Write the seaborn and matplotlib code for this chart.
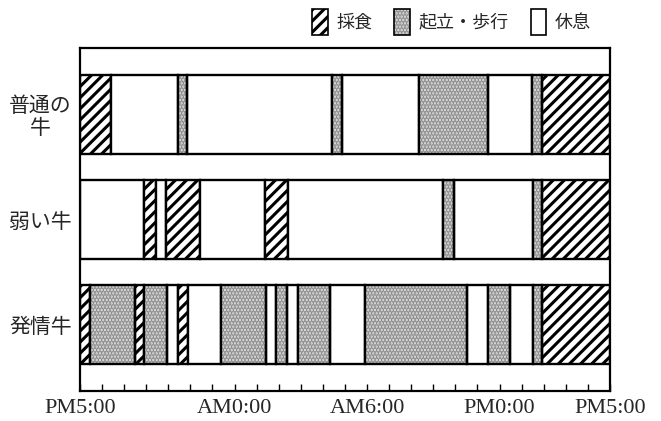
import matplotlib
matplotlib.use("Agg")
import matplotlib.pyplot as plt
import seaborn as sns
import pandas as pd
from matplotlib.patches import Patch

# ---------------- data ----------------
cows = ["普通の\n牛", "弱い牛", "発情牛"]
activities = ["採食", "起立・歩行", "休息"]

# segment boundaries, hours after PM5:00
normal_edges = [0, 1.40, 4.42, 4.85, 11.41, 11.85, 15.35, 18.48, 20.47, 20.91, 24]
normal_states = ["採食", "休息", "起立・歩行", "休息", "起立・歩行", "休息",
                 "起立・歩行", "休息", "起立・歩行", "採食"]

weak_edges = [0, 2.90, 3.43, 3.88, 5.43, 8.38, 9.41, 16.43, 16.95, 20.53, 20.94, 24]
weak_states = ["休息", "採食", "休息", "採食", "休息", "採食", "休息",
               "起立・歩行", "休息", "起立・歩行", "採食"]

estrus_edges = [0, 0.45, 2.49, 2.91, 3.93, 4.45, 4.90, 6.37, 8.41, 8.88, 9.36,
                9.86, 11.32, 12.91, 17.51, 18.46, 19.47, 20.53, 20.91, 24]
estrus_states = ["採食", "起立・歩行", "採食", "起立・歩行", "休息", "採食", "休息",
                 "起立・歩行", "休息", "起立・歩行", "休息", "起立・歩行", "休息",
                 "起立・歩行", "休息", "起立・歩行", "休息", "起立・歩行", "採食"]

tick_hours = [0, 7, 13, 19, 24]
tick_labels = ["PM5:00", "AM0:00", "AM6:00", "PM0:00", "PM5:00"]

# ---------------- table ----------------
rows = []
for i, (edges, states) in enumerate([(normal_edges, normal_states),
                                      (weak_edges, weak_states),
                                      (estrus_edges, estrus_states)]):
    for a, b, s in zip(edges[:-1], edges[1:], states):
        rows.append({"cow": i, "start": a, "dur": b - a, "state": s})
df = pd.DataFrame(rows)

# ---------------- style ----------------
sns.set_style("white")
plt.rcParams["font.family"] = ["Noto Sans CJK JP", "DejaVu Sans"]
plt.rcParams["hatch.linewidth"] = 2.2

W, H = 661, 421
fig = plt.figure(figsize=(W / 100, H / 100), dpi=100)
ax = fig.add_axes([80 / W, (H - 391) / H, (610 - 80) / W, (391 - 48) / H])

BAR_H = 0.752
EDGE_LW = 1.7
DOT_FACE = "#e2e2e2"
DOT_HATCH = "#8c8c8c"

for _, r in df.iterrows():
    y = r["cow"]
    if r["state"] == "採食":
        ax.barh(y, r["dur"], left=r["start"], height=BAR_H, facecolor="white",
                edgecolor="black", hatch="///", linewidth=EDGE_LW, zorder=2)
    elif r["state"] == "起立・歩行":
        ax.barh(y, r["dur"], left=r["start"], height=BAR_H, facecolor=DOT_FACE,
                edgecolor=DOT_HATCH, hatch=".....", linewidth=0, zorder=2)
        ax.barh(y, r["dur"], left=r["start"], height=BAR_H, facecolor="none",
                edgecolor="black", linewidth=EDGE_LW, zorder=3)
    else:
        ax.barh(y, r["dur"], left=r["start"], height=BAR_H, facecolor="white",
                edgecolor="black", linewidth=EDGE_LW, zorder=2)

ax.set_xlim(0, 24)
ax.set_ylim(2.633, -0.633)

ax.set_yticks(range(len(cows)))
ax.set_yticklabels(cows, fontsize=15, multialignment="center", linespacing=1.0)
ax.tick_params(axis="y", length=0, pad=6)

ax.set_xticks(range(0, 25))
ax.set_xticklabels([tick_labels[tick_hours.index(h)] if h in tick_hours else ""
                    for h in range(0, 25)],
                   fontsize=16, family=["Liberation Serif", "DejaVu Serif"])
ax.tick_params(axis="x", direction="in", length=5, width=1, color="black",
               pad=6, bottom=True, top=False)

for s in ax.spines.values():
    s.set_visible(True)
    s.set_color("black")
    s.set_linewidth(1.6)

handles = [
    Patch(facecolor="white", edgecolor="black", hatch="///", linewidth=1.2),
    (Patch(facecolor=DOT_FACE, edgecolor=DOT_HATCH, hatch=".....", linewidth=0),
     Patch(facecolor="none", edgecolor="black", linewidth=1.2)),
    Patch(facecolor="white", edgecolor="black", linewidth=1.2),
]
fig.legend(handles, activities, loc="center right",
           bbox_to_anchor=(591 / W, 1 - 22 / H), ncol=3, frameon=False,
           fontsize=13, handlelength=0.85, handleheight=1.9,
           handletextpad=0.5, columnspacing=1.2, borderpad=0, borderaxespad=0)

fig.savefig("out.png", dpi=100)
